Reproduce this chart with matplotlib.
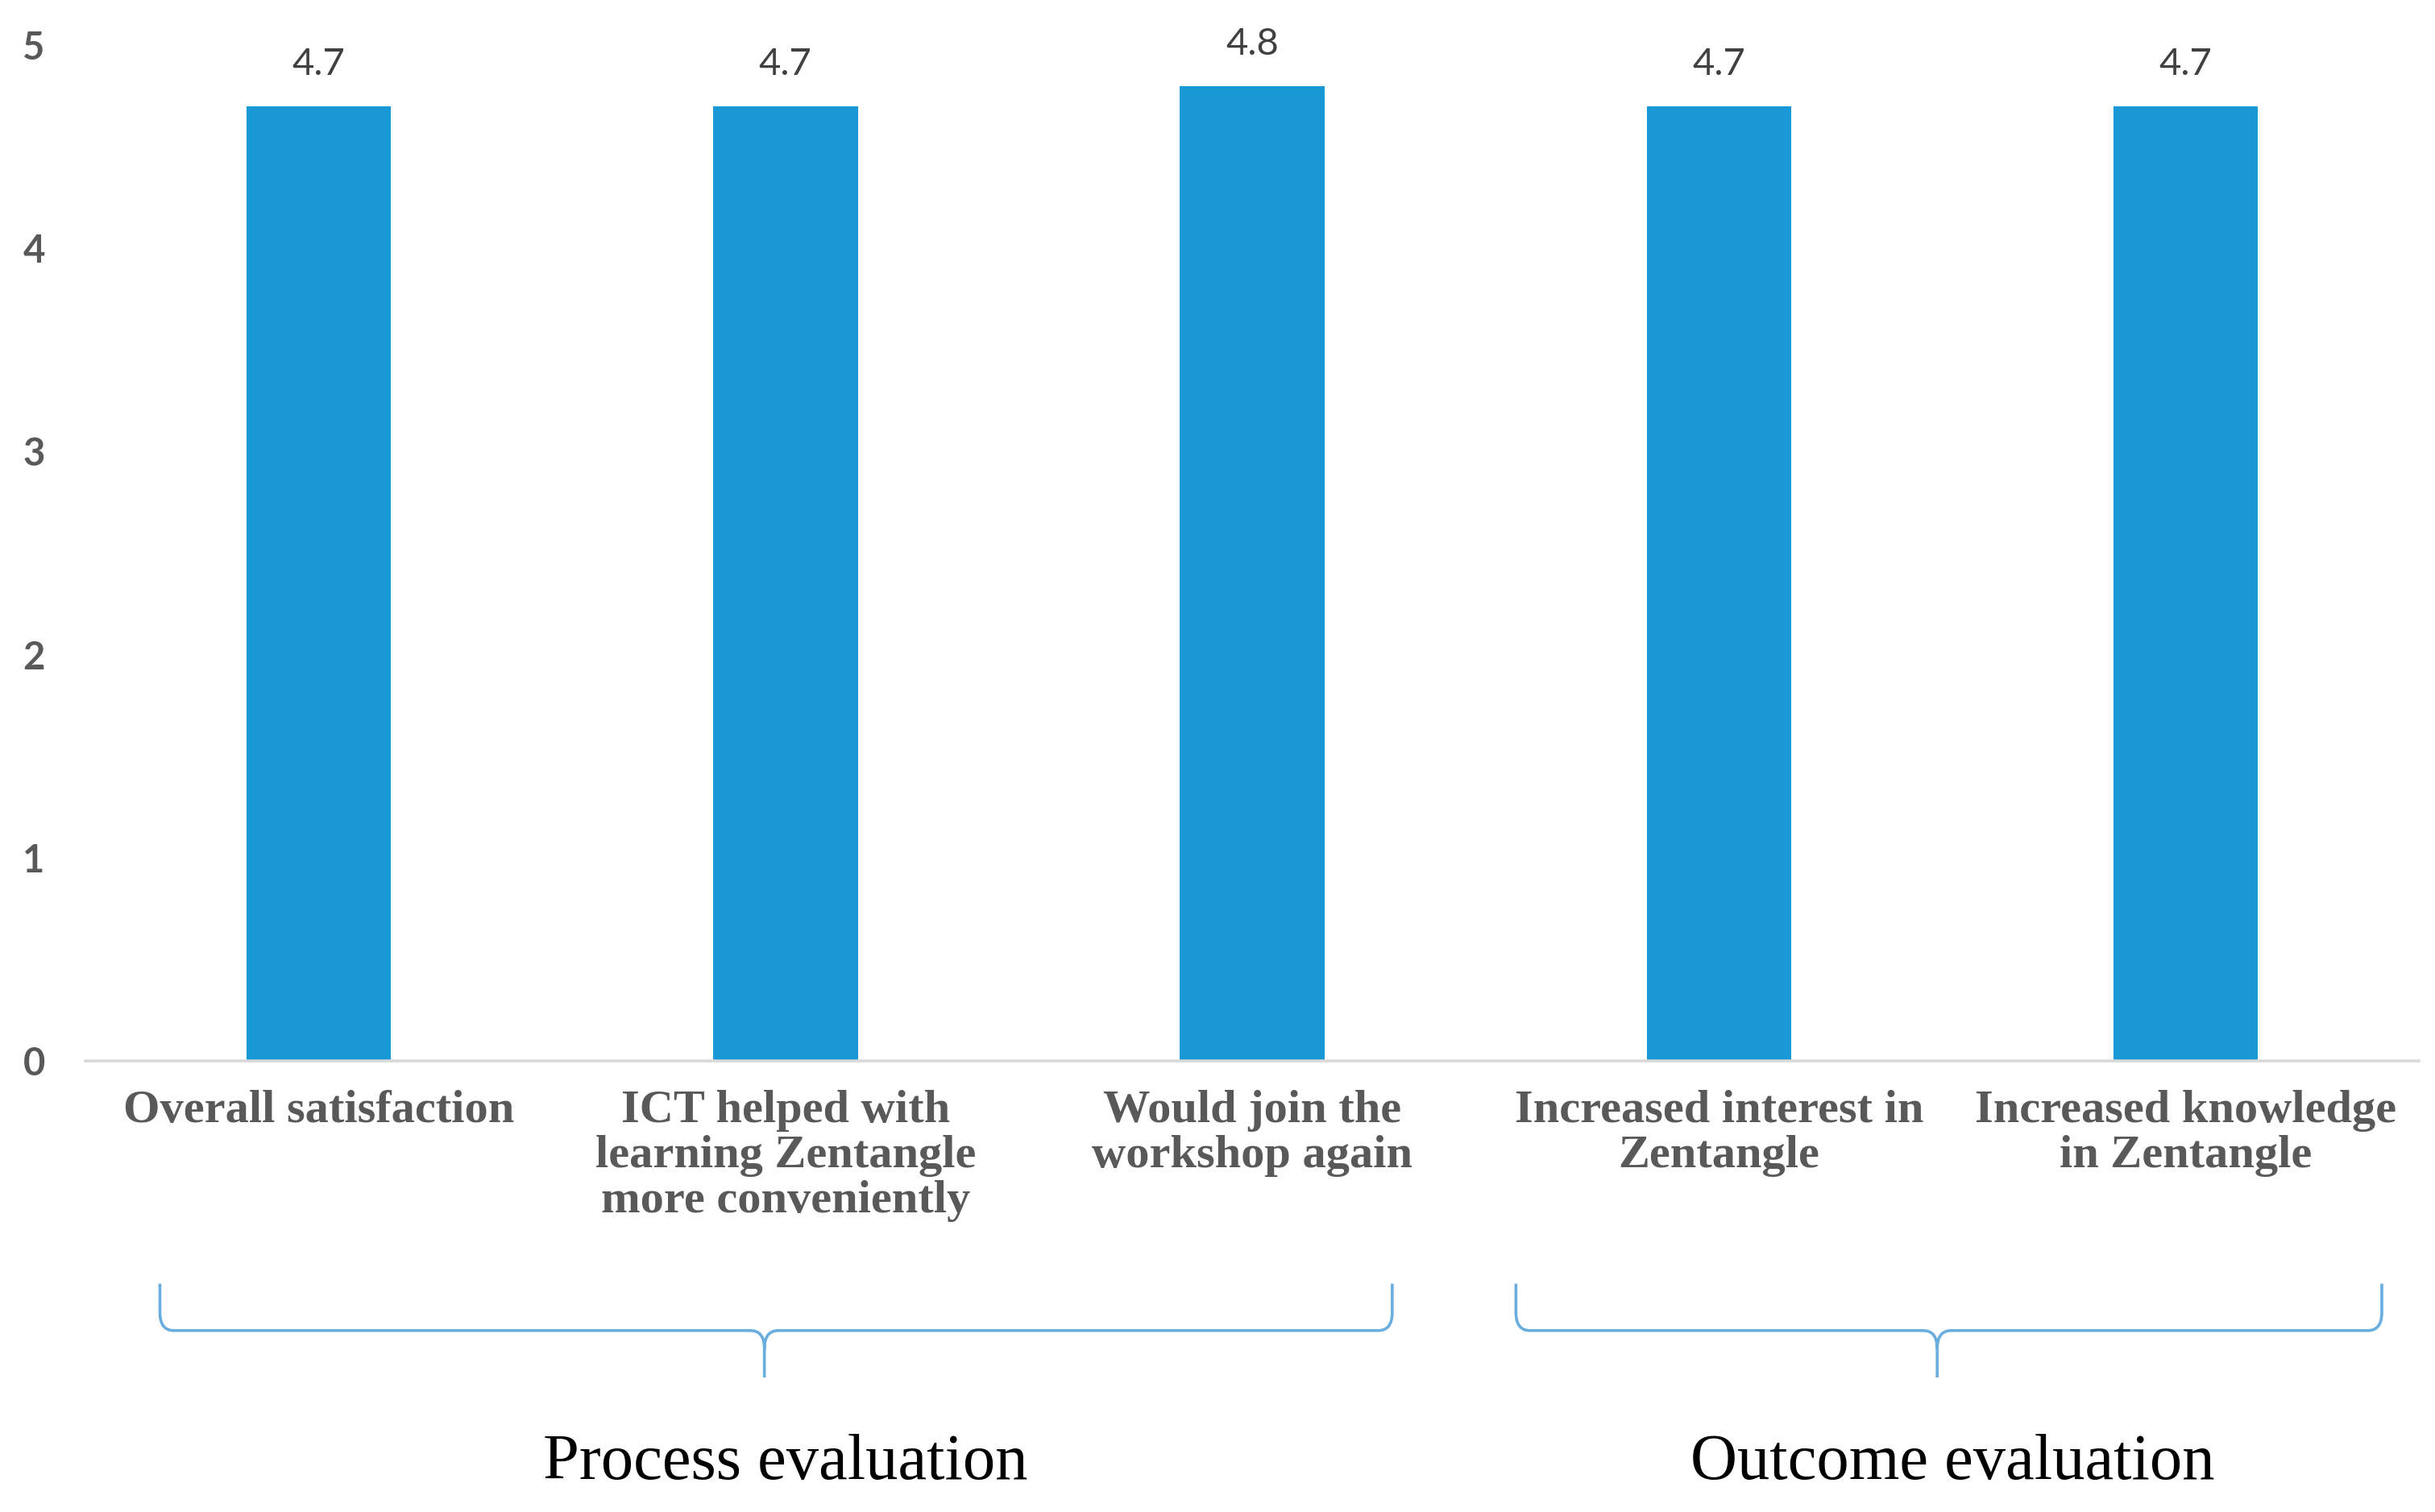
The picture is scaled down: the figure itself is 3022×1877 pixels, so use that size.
import numpy as np
import matplotlib
matplotlib.use("Agg")
import matplotlib.pyplot as plt
from matplotlib import transforms
from matplotlib.path import Path
from matplotlib.patches import PathPatch

categories = ["Overall satisfaction",
              "ICT helped with\nlearning Zentangle\nmore conveniently",
              "Would join the\nworkshop again",
              "Increased interest in\nZentangle",
              "Increased knowledge\nin Zentangle"]
scores = [4.7, 4.7, 4.8, 4.7, 4.7]
y_ticks = [0, 1, 2, 3, 4, 5]

groups = ["Process evaluation", "Outcome evaluation"]
group_members = [[0, 1, 2], [3, 4]]
# how far each brace reaches past its first / last bar (in category units)
brace_reach = [(0.34, 0.30), (0.435, 0.42)]

BAR_COLOR = "#1899D6"
BRACE_COLOR = "#6AADDF"


def draw_brace(ax, fig, x0, x1, xtip, ytop, ymid, ybot, dx=0.03, dy=0.012):
	trans = transforms.blended_transform_factory(ax.transData, fig.transFigure)
	verts = [(x0, ytop), (x0, ymid + dy), (x0, ymid), (x0 + dx, ymid),
		(xtip - dx, ymid), (xtip, ymid), (xtip, ymid - dy), (xtip, ybot),
		(x1, ytop), (x1, ymid + dy), (x1, ymid), (x1 - dx, ymid),
		(xtip + dx, ymid), (xtip, ymid), (xtip, ymid - dy)]
	codes = [Path.MOVETO, Path.LINETO, Path.CURVE3, Path.CURVE3,
		Path.LINETO, Path.CURVE3, Path.CURVE3, Path.LINETO,
		Path.MOVETO, Path.LINETO, Path.CURVE3, Path.CURVE3,
		Path.LINETO, Path.CURVE3, Path.CURVE3]
	patch = PathPatch(Path(verts, codes), transform=trans, fill=False,
		edgecolor=BRACE_COLOR, linewidth=1.3, clip_on=False)
	fig.add_artist(patch)


fig = plt.figure(figsize=(15.11, 9.385), dpi=200)
ax = fig.add_axes([0.035, 0.2985, 0.9585, 0.6715])

x = np.arange(len(categories))
bars = ax.bar(x, scores, width=0.31, color=BAR_COLOR, zorder=2)

for xi, v in zip(x, scores):
	ax.annotate("%.1f" % v, (xi, v), xytext=(0, 11), textcoords="offset points",
		ha="center", va="bottom", fontsize=17, color="#404040", family="Lato")

ax.set_xlim(-0.5, len(categories) - 0.5)
ax.set_ylim(0, 5)
ax.set_yticks(y_ticks)
ax.set_yticklabels([str(t) for t in y_ticks], fontsize=17, fontweight="bold",
	color="#595959", family="Lato")
ax.set_xticks(x)
ax.set_xticklabels(categories, fontsize=21, fontweight="bold", color="#595959",
	family="Liberation Serif", linespacing=1.1)
ax.tick_params(axis="y", length=0, pad=18)
ax.tick_params(axis="x", length=0, pad=13)

for s in ["top", "right", "left"]:
	ax.spines[s].set_visible(False)
ax.spines["bottom"].set_color("#D9D9D9")
ax.spines["bottom"].set_linewidth(1.3)

# group braces and labels
trans = transforms.blended_transform_factory(ax.transData, fig.transFigure)
for name, members, reach in zip(groups, group_members, brace_reach):
	x0 = members[0] - reach[0]
	x1 = members[-1] + reach[1]
	xtip = (x0 + x1) / 2 - 0.025
	draw_brace(ax, fig, x0, x1, xtip, 0.151, 0.120, 0.089)
	fig.text(np.mean(members), 0.032, name, transform=trans, ha="center", va="center",
		fontsize=29, color="black", family="Liberation Serif")

plt.savefig("out.png", dpi=200)
